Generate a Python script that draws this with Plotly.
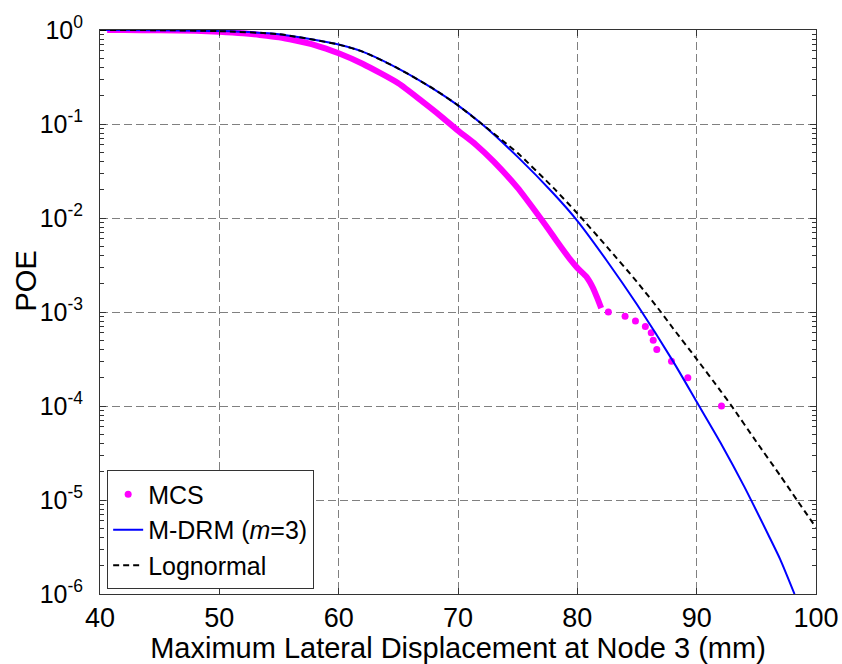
import plotly.graph_objects as go

# ---- data (x in mm, POE) ----
# M-DRM (m=3) curve
mdrm_x = [40, 45, 50, 55, 60, 62, 65, 68, 70, 72, 75, 78, 80, 82.5, 85, 88, 90, 92, 94, 96, 97, 98.2]
mdrm_y = [1.0, 0.995, 0.973, 0.902, 0.700, 0.589, 0.389, 0.234, 0.158, 0.100,
          0.0447, 0.0182, 0.00933, 0.00347, 0.00120, 0.000302, 0.000111,
          4.07e-05, 1.38e-05, 4.27e-06, 2.34e-06, 1.0e-06]

# Lognormal curve
logn_x = [40, 45, 50, 55, 60, 62, 65, 68, 70, 72, 75, 78, 80, 82.5, 85, 87, 88, 90, 92, 92.93, 95, 97, 98.4, 100]
logn_y = [1.0, 0.995, 0.973, 0.902, 0.700, 0.589, 0.389, 0.234, 0.158, 0.100,
          0.0490, 0.0209, 0.0112, 0.00490, 0.00209, 0.00100, 0.000676, 0.000316,
          0.000145, 0.000100, 4.17e-05, 1.82e-05, 1.0e-05, 5.1e-06]

# MCS empirical POE: dense part (overlapping dots) and sparse tail samples
mcs_dense_x = [40.6, 42, 45, 48, 50, 52, 53.4, 55, 56.3, 58, 60, 62, 65, 67, 68.5,
               70, 71.5, 73, 75, 76.9, 77.7, 78.3, 79.4, 80, 80.8, 81.3, 81.7, 82.0]
mcs_dense_y = [1.0, 0.999, 0.993, 0.982, 0.959, 0.923, 0.885, 0.836, 0.777, 0.692,
               0.565, 0.437, 0.271, 0.174, 0.123, 0.0851, 0.0603, 0.0398, 0.0209,
               0.0100, 0.00724, 0.00562, 0.00363, 0.00295, 0.00234, 0.00182,
               0.00138, 0.00110]
mcs_tail_x = [82.6, 84.0, 84.87, 85.7, 86.19, 86.36, 86.66, 87.89, 89.26, 92.08]
mcs_tail_y = [1e-3, 9e-4, 8e-4, 7e-4, 6e-4, 5e-4, 4e-4, 3e-4, 2e-4, 1e-4]

y_tick_exp = [-6, -5, -4, -3, -2, -1, 0]
x_ticks = [40, 50, 60, 70, 80, 90, 100]

FONT = "Liberation Sans, Arial, sans-serif"
FS_XTICK = 27
FS_YTICK = 25
FS_TITLE = 29
FS_LEG = 25

fig = go.Figure()
fig.add_trace(go.Scatter(x=mcs_dense_x, y=mcs_dense_y, mode="lines",
                         line=dict(color="#FF00FF", width=6, shape="spline", smoothing=0.6),
                         showlegend=False, hoverinfo="skip"))
fig.add_trace(go.Scatter(x=mcs_tail_x, y=mcs_tail_y, mode="markers", name="MCS",
                         marker=dict(color="#FF00FF", size=7)))
fig.add_trace(go.Scatter(x=mdrm_x, y=mdrm_y, mode="lines", name="M-DRM (<i>m</i>=3)",
                         line=dict(color="#0000FF", width=2, shape="spline", smoothing=0.6)))
fig.add_trace(go.Scatter(x=logn_x, y=logn_y, mode="lines", name="Lognormal",
                         line=dict(color="black", width=2, dash="6px,4px", shape="spline", smoothing=0.6)))

minor_vals = [m * 10 ** e for e in range(-6, 0) for m in range(2, 10)]

fig.update_layout(
    width=842, height=664,
    margin=dict(l=100, r=26, t=30, b=70),
    paper_bgcolor="white", plot_bgcolor="white",
    font=dict(family=FONT, size=FS_XTICK, color="black"),
    showlegend=True,
    legend=dict(x=0.01, y=0.008, xanchor="left", yanchor="bottom",
                bgcolor="white", bordercolor="#333333", borderwidth=1,
                font=dict(family=FONT, size=FS_LEG), tracegroupgap=0,
                itemsizing="trace"),
    xaxis=dict(range=[40, 100], tickvals=x_ticks, ticktext=[str(v) for v in x_ticks],
               ticks="inside", ticklen=6, tickcolor="#333333",
               tickfont=dict(family=FONT, size=FS_XTICK),
               showline=True, linecolor="#333333", linewidth=1, mirror="ticks",
               showgrid=True, gridcolor="#808080", griddash="8px,4px", gridwidth=1,
               zeroline=False, automargin=False,
               title=dict(text="Maximum Lateral Displacement at Node 3 (mm)",
                          font=dict(family=FONT, size=FS_TITLE), standoff=2)),
    yaxis=dict(type="log", range=[-6, 0],
               tickvals=[10 ** e for e in y_tick_exp],
               ticktext=["10<sup>%d</sup>" % e for e in y_tick_exp],
               tickfont=dict(family=FONT, size=FS_YTICK),
               ticks="inside", ticklen=6, tickcolor="#333333",
               minor=dict(tickvals=minor_vals, ticks="inside", ticklen=4,
                          tickcolor="#333333", showgrid=False),
               showline=True, linecolor="#333333", linewidth=1, mirror="ticks",
               showgrid=True, gridcolor="#808080", griddash="8px,4px", gridwidth=1,
               zeroline=False, ticklabelstandoff=11, automargin=False),
    annotations=[dict(text="POE", textangle=-90, xref="paper", yref="paper",
                      x=-0.104, y=0.555, xanchor="center", yanchor="middle",
                      showarrow=False, font=dict(family=FONT, size=FS_TITLE))],
)

fig.write_html("out.html", config={"displayModeBar": False},
               post_script="document.body.style.margin='0px';")
